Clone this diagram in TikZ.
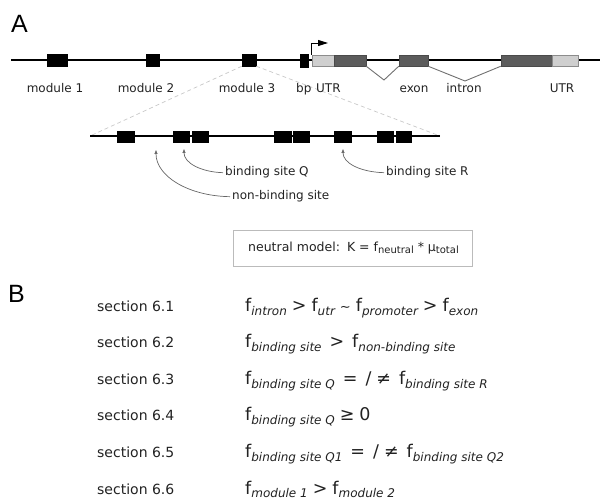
\documentclass[tikz,border=0pt]{standalone}
\usepackage{fontspec}
\setmainfont{DejaVu Sans}
\newfontfamily\panelfont{Liberation Sans}
\usetikzlibrary{arrows.meta}
\definecolor{exondark}{HTML}{5C5C5C}
\definecolor{exonedge}{HTML}{4A4A4A}
\definecolor{utrlight}{HTML}{CFCFCF}
\definecolor{utredge}{HTML}{8C8C8C}
\definecolor{introngray}{HTML}{707070}
\definecolor{zoomgray}{HTML}{C8C8C8}
\definecolor{annogray}{HTML}{666666}
\definecolor{boxedge}{HTML}{BBBBBB}
\definecolor{txt}{HTML}{222222}
\newcommand{\fsub}[1]{f\raisebox{-3.5pt}{\fontsize{12}{12}\selectfont\itshape #1}}
\newcommand{\fsubup}[1]{f\raisebox{-2.5pt}{\fontsize{10}{10}\selectfont #1}}
\newcommand{\musub}[1]{\textmu\raisebox{-2.5pt}{\fontsize{10}{10}\selectfont #1}}
\newcommand{\gap}{\hspace{5pt}}
\newcommand{\wgap}{\hspace{8pt}}
\begin{document}
\begin{tikzpicture}[x=1pt,y=-1pt,
  modbox/.style={draw=black, fill=black, inner sep=0, minimum height=12pt, line width=0.4pt},
  sitebox/.style={draw=black, fill=black, inner sep=0, minimum height=11pt, minimum width=16pt, line width=0.4pt},
  exonbox/.style={draw=exonedge, fill=exondark, inner sep=0, minimum height=11pt, line width=0.5pt},
  utrbox/.style={draw=utredge, fill=utrlight, inner sep=0, minimum height=11pt, line width=0.5pt},
  lab/.style={font=\fontsize{12}{14}\selectfont, text=txt, inner sep=0},
  sect/.style={font=\fontsize{14}{17}\selectfont, text=txt, inner sep=0},
  formula/.style={font=\fontsize{17.5}{20}\selectfont, text=txt, inner sep=0},
  panel/.style={font=\panelfont\fontsize{25}{28}\selectfont, text=black, inner sep=0},
  zoomdash/.style={draw=zoomgray, dashed, dash pattern=on 4pt off 3pt, line width=0.7pt},
  anno/.style={draw=annogray, line width=0.7pt, -{Triangle[length=4pt,width=3pt]}},
  introline/.style={draw=introngray, line width=0.9pt}
]
\useasboundingbox (0,0) rectangle (600,502);

% panel letters
\node[panel, anchor=base west] (A) at (11,33) {A};
\node[panel, anchor=base west] (B) at (8,303) {B};

% zoom line ends
\coordinate (zl) at (90,136);
\coordinate (zr) at (440,136);

% main line
\coordinate (ml) at (11,60);
\coordinate (mr) at (600,60);
\draw[line width=1.3pt] (ml) -- (mr);

% modules
\node[modbox, minimum width=20pt] (m1) at (57,60) {};
\node[modbox, minimum width=13pt] (m2) at (152.5,60) {};
\node[modbox, minimum width=14pt] (m3) at (249,60) {};

\draw[zoomdash] (m3.south west) -- (zl);
\draw[zoomdash] (m3.south east) -- (zr);

% promoter and gene
\node[modbox, minimum width=8pt, minimum height=13pt] (bpbox) at (304,60.5) {};
\node[utrbox, minimum width=22pt] (u5) at (323,60.5) {};
\node[exonbox, minimum width=32pt] (e1) at (350,60.5) {};
\node[exonbox, minimum width=29pt] (e2) at (413.5,60.5) {};
\node[exonbox, minimum width=51pt] (e3) at (526.5,60.5) {};
\node[utrbox, minimum width=26pt] (u3) at (565,60.5) {};

\coordinate (i1) at (384,80);
\coordinate (i2) at (465,81);
\draw[introline] (e1.south east) -- (i1) -- (e2.south west);
\draw[introline] (e2.south east) -- (i2) -- (e3.south west);

\coordinate (tss) at (311.5,55);
\coordinate (tssend) at (328,43);
\draw[line width=0.9pt, -{Triangle[length=10pt,width=6pt]}] (tss) |- (tssend);

% labels row
\node[lab, anchor=base] (l1) at (55,93) {module 1};
\node[lab, anchor=base] (l2) at (146,93) {module 2};
\node[lab, anchor=base] (l3) at (247,93) {module 3};
\node[lab, anchor=base west] (lbp) at (296,93) {bp};
\node[lab, anchor=base west] (lutr) at (316,93) {UTR};
\node[lab, anchor=base] (lexon) at (414,93) {exon};
\node[lab, anchor=base] (lintron) at (464,93) {intron};
\node[lab, anchor=base] (lutr3) at (562,93) {UTR};

% zoomed module
\draw[line width=1.3pt] (zl) -- (zr);
\node[sitebox, minimum width=17pt] (s1) at (125.5,136.5) {};
\node[sitebox] (s2) at (181,136.5) {};
\node[sitebox] (s3) at (200,136.5) {};
\node[sitebox, minimum width=17pt] (s4) at (282.5,136.5) {};
\node[sitebox] (s5) at (301,136.5) {};
\node[sitebox, minimum width=17pt] (s6) at (342.5,136.5) {};
\node[sitebox] (s7) at (385,136.5) {};
\node[sitebox, minimum width=15pt] (s8) at (403.5,136.5) {};

% annotations
\node[lab, anchor=base west] (lq) at (225,176) {binding site Q};
\node[lab, anchor=base west] (lr) at (386,176) {binding site R};
\node[lab, anchor=base west] (lnb) at (232,200) {non-binding site};
\coordinate (tq) at (184,149);
\coordinate (tr) at (343,149);
\coordinate (tnb) at (156,150);
\draw[anno] ([xshift=-2pt]lq.west) .. controls (201,172) and (184,163) .. (tq);
\draw[anno] ([xshift=-2pt]lr.west) .. controls (360,172) and (343,163) .. (tr);
\draw[anno] ([xshift=-2pt]lnb.west) .. controls (188,196) and (156,176) .. (tnb);

% neutral model box
\node[draw=boxedge, line width=0.8pt, minimum width=239pt, minimum height=36pt, inner sep=0] (nm) at (352.5,248) {};
\node[font=\fontsize{12.5}{15}\selectfont, text=txt, inner sep=0] (nmt) at ([xshift=1pt]nm.center) {neutral model:\hspace{7pt}K = \fsubup{neutral} * \musub{total}};

% section rows
\node[sect, anchor=base west] (r1) at (97,312) {section 6.1};
\node[sect, anchor=base west] (r2) at (97,348) {section 6.2};
\node[sect, anchor=base west] (r3) at (97,385) {section 6.3};
\node[sect, anchor=base west] (r4) at (97,421) {section 6.4};
\node[sect, anchor=base west] (r5) at (97,458) {section 6.5};
\node[sect, anchor=base west] (r6) at (97,494) {section 6.6};

\node[formula, anchor=base west] (f1) at (245,312) {\fsub{intron}\gap>\gap\fsub{utr}\gap{\fontsize{13}{13}\selectfont\char"007E}\gap\fsub{promoter}\gap>\gap\fsub{exon}};
\node[formula, anchor=base west] (f2) at (245,348) {\fsub{binding site}\wgap>\wgap\fsub{non-binding site}};
\node[formula, anchor=base west] (f3) at (245,385) {\fsub{binding site Q}\wgap=\wgap/\gap≠\wgap\fsub{binding site R}};
\node[formula, anchor=base west] (f4) at (245,421) {\fsub{binding site Q}\gap≥\gap0};
\node[formula, anchor=base west] (f5) at (245,458) {\fsub{binding site Q1}\wgap=\wgap/\gap≠\wgap\fsub{binding site Q2}};
\node[formula, anchor=base west] (f6) at (245,494) {\fsub{module 1}\gap>\gap\fsub{module 2}};
\end{tikzpicture}
\end{document}
